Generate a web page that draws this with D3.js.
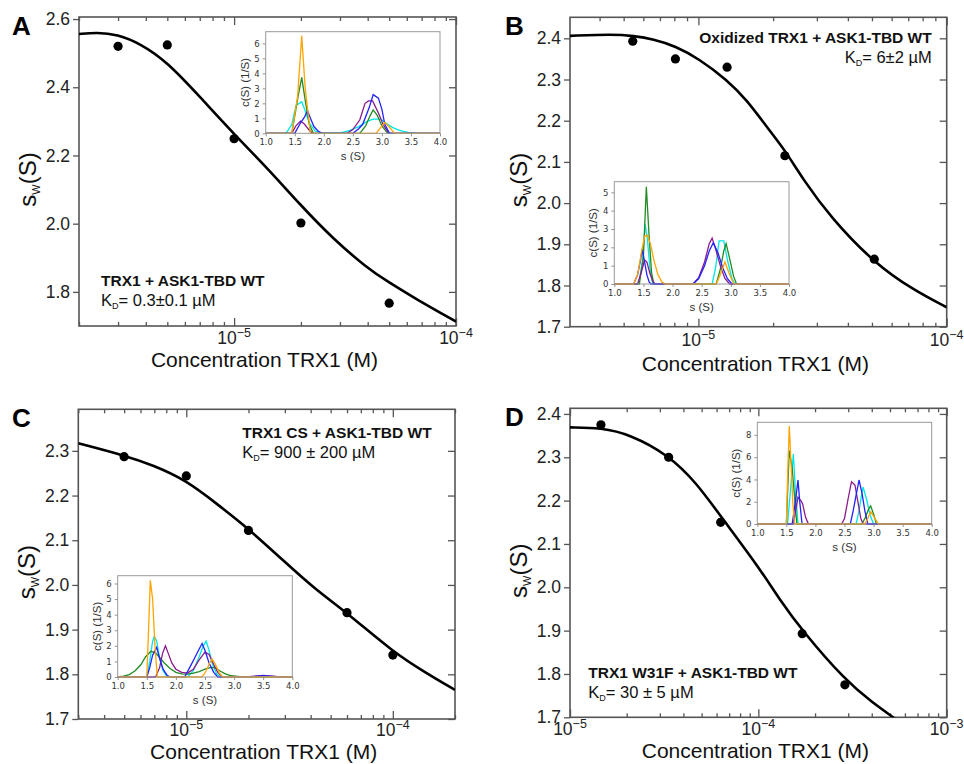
<!DOCTYPE html>
<html>
<head>
<meta charset="utf-8">
<script src="https://cdn.jsdelivr.net/npm/d3@7"></script>
<style>
  body { margin: 0; background: #fff; }
  svg { display: block; font-family: "Liberation Sans", Arial, sans-serif; }
</style>
</head>
<body>
<svg id="plot"></svg>
<script>
const WIDTH = 964;
const HEIGHT = 764;

// Panel A: TRX1 + ASK1-TBD WT
const concA = [3e-6, 5e-6, 1e-5, 2e-5, 5e-5];
const swA = [2.52, 2.524, 2.249, 2.002, 1.767];
const fitConcA = [2e-6, 2.41e-6, 2.97e-6, 3.78e-6, 5e-6, 7.03e-6, 1e-5, 1.4e-5, 2e-5, 2.8e-5, 3.96e-5, 5e-5, 6.65e-5, 1e-4];
const fitSwA = [2.556, 2.561, 2.555, 2.528, 2.474, 2.371, 2.262, 2.166, 2.053, 1.955, 1.871, 1.827, 1.778, 1.713];

// Panel B: oxidized TRX1
const concB = [5.44e-6, 8.08e-6, 1.305e-5, 2.23e-5, 5.11e-5];
const swB = [2.393, 2.35, 2.33, 2.115, 1.864];
const fitConcB = [3.04e-6, 4.55e-6, 5.47e-6, 6.59e-6, 8.08e-6, 1e-5, 1.305e-5, 1.567e-5, 1.884e-5, 2.23e-5, 2.65e-5, 3.39e-5, 5.11e-5, 7.35e-5, 1e-4];
const fitSwB = [2.406, 2.41, 2.406, 2.398, 2.381, 2.351, 2.299, 2.25, 2.185, 2.129, 2.056, 1.967, 1.854, 1.789, 1.747];

// Panel C: TRX1 CS
const concC = [5e-6, 1e-5, 2e-5, 6e-5, 1e-4];
const swC = [2.287, 2.244, 2.122, 1.938, 1.843];
const fitConcC = [3e-6, 5e-6, 6.9e-6, 1e-5, 1.4e-5, 2e-5, 2.94e-5, 4.26e-5, 6e-5, 1e-4, 1.46e-4, 2e-4];
const fitSwC = [2.317, 2.29, 2.268, 2.234, 2.182, 2.126, 2.055, 1.988, 1.938, 1.85, 1.802, 1.765];

// Panel D: TRX1 W31F
const concD = [1.46e-5, 3.34e-5, 6.31e-5, 1.71e-4, 2.88e-4];
const swD = [2.375, 2.3, 2.15, 1.893, 1.775];
const fitConcD = [1e-5, 1.46e-5, 2.08e-5, 3.34e-5, 4.69e-5, 6.31e-5, 1e-4, 1.3e-4, 1.71e-4, 2.88e-4, 4.08e-4, 5.21e-4, 6e-4];
const fitSwD = [2.369, 2.368, 2.353, 2.305, 2.241, 2.164, 2.048, 1.971, 1.9, 1.786, 1.732, 1.70, 1.68];

// Inset c(s) distributions, [s, c(s)] pairs
const seriesColors = ['#00e5e5', '#228b22', '#8b1a8b', '#2222ff', '#ffa500'];
const insetA = [
    [[1.0,0],[1.35,0],[1.45,0.6],[1.52,1.85],[1.58,2.0],[1.62,2.1],[1.67,1.6],[1.75,0.7],[1.85,0.15],[1.95,0.03],[2.3,0.05],[2.45,0.2],[2.6,0.45],[2.75,0.8],[2.85,0.95],[2.98,0.95],[3.08,0.65],[3.18,0.4],[3.3,0.2],[3.45,0.06],[3.6,0],[4.0,0]],
    [[1.0,0],[1.45,0],[1.55,2.3],[1.62,3.73],[1.68,2.2],[1.75,0.6],[1.82,0],[2.62,0],[2.72,0.5],[2.8,1.2],[2.85,1.56],[2.92,1.2],[3.0,0.5],[3.1,0],[4.0,0]],
    [[1.0,0],[1.45,0],[1.52,0.5],[1.6,0.82],[1.67,0.6],[1.73,0.3],[1.8,0],[2.4,0],[2.5,0.25],[2.62,0.9],[2.71,2.0],[2.77,2.16],[2.84,2.16],[2.94,1.35],[3.02,0.6],[3.1,0.1],[3.15,0],[4.0,0]],
    [[1.0,0],[1.5,0],[1.6,0.7],[1.67,1.1],[1.72,1.5],[1.77,1.0],[1.83,0.45],[1.9,0.15],[1.97,0],[2.5,0],[2.6,0.3],[2.67,0.6],[2.78,1.7],[2.85,2.58],[2.94,2.35],[3.0,1.6],[3.05,0.6],[3.13,0],[4.0,0]],
    [[1.0,0],[1.45,0],[1.55,2.5],[1.62,6.5],[1.68,3],[1.77,0],[2.9,0],[2.97,0.35],[3.05,0.72],[3.12,0.45],[3.22,0],[4.0,0]]
];
const insetB = [
    [[1.0,0],[1.42,0],[1.48,1.2],[1.53,3.25],[1.57,2.4],[1.61,0.9],[1.66,0],[2.68,0],[2.74,0.9],[2.8,2.35],[2.88,2.35],[2.95,1.2],[3.02,0.3],[3.07,0],[4.0,0]],
    [[1.0,0],[1.43,0],[1.5,1.5],[1.55,5.3],[1.6,2.5],[1.64,0.6],[1.68,0],[2.75,0],[2.82,0.8],[2.88,1.8],[2.92,2.2],[2.98,1.4],[3.05,0.4],[3.1,0],[4.0,0]],
    [[1.0,0],[1.4,0],[1.46,0.6],[1.52,1.31],[1.56,1.2],[1.61,0.6],[1.66,0.15],[1.7,0],[2.35,0],[2.45,0.35],[2.55,1.2],[2.63,2.2],[2.68,2.5],[2.74,1.9],[2.82,1.0],[2.9,0.3],[2.98,0],[4.0,0]],
    [[1.0,0],[1.33,0],[1.4,0.5],[1.45,1.3],[1.48,1.9],[1.52,1.2],[1.56,0.5],[1.6,0.1],[1.63,0],[2.35,0],[2.45,0.3],[2.55,1.0],[2.63,1.8],[2.7,2.25],[2.78,1.7],[2.86,0.9],[2.94,0.3],[3.02,0],[4.0,0]],
    [[1.0,0],[1.33,0],[1.4,0.5],[1.47,1.8],[1.52,2.6],[1.57,2.65],[1.62,2.2],[1.68,1.3],[1.75,0.5],[1.82,0.1],[1.88,0],[2.75,0],[2.82,0.5],[2.9,1.2],[2.97,0.6],[3.05,0],[4.0,0]]
];
const insetC = [
    [[1.0,0],[1.5,0],[1.55,1.0],[1.6,2.3],[1.63,2.6],[1.67,2.3],[1.72,1.2],[1.78,0.4],[1.85,0],[2.2,0],[2.3,0.4],[2.4,1.3],[2.47,2.0],[2.52,2.3],[2.57,1.7],[2.63,0.8],[2.7,0.2],[2.77,0],[4.0,0]],
    [[1.0,0],[1.1,0.05],[1.2,0.15],[1.3,0.4],[1.4,0.8],[1.48,1.3],[1.57,1.65],[1.65,1.55],[1.72,1.25],[1.8,0.9],[1.9,0.55],[2.0,0.3],[2.1,0.2],[2.2,0.18],[2.3,0.25],[2.4,0.35],[2.5,0.5],[2.6,0.62],[2.68,0.58],[2.75,0.4],[2.85,0.2],[2.95,0.08],[3.1,0.02],[3.3,0],[4.0,0]],
    [[1.0,0],[1.65,0],[1.72,0.6],[1.77,1.5],[1.82,2.0],[1.87,1.5],[1.93,0.9],[2.0,0.5],[2.1,0.3],[2.2,0.25],[2.3,0.5],[2.4,1.1],[2.5,1.6],[2.57,1.45],[2.65,0.8],[2.72,0.3],[2.8,0],[3.2,0],[3.4,0.07],[3.5,0.1],[3.6,0.07],[3.8,0],[4.0,0]],
    [[1.0,0],[1.5,0],[1.55,0.6],[1.6,1.4],[1.67,1.9],[1.72,1.2],[1.78,0.5],[1.85,0.1],[1.9,0],[2.15,0],[2.25,0.7],[2.32,1.2],[2.4,1.8],[2.45,2.15],[2.5,1.7],[2.57,0.9],[2.65,0.3],[2.72,0],[3.2,0],[3.4,0.05],[3.5,0.08],[3.6,0.05],[3.8,0],[4.0,0]],
    [[1.0,0],[1.5,0],[1.53,3.0],[1.56,6.2],[1.6,5.0],[1.64,2.0],[1.68,0],[2.45,0],[2.52,0.4],[2.58,0.9],[2.62,1.15],[2.68,0.8],[2.74,0.3],[2.8,0],[4.0,0]]
];
const insetD = [
    [[1.0,0],[1.52,0],[1.57,3.0],[1.62,6.3],[1.65,3.5],[1.7,0],[2.7,0],[2.75,1.2],[2.8,2.8],[2.82,3.3],[2.88,2.2],[2.94,0.8],[3.0,0],[4.0,0]],
    [[1.0,0],[1.5,0],[1.53,4.0],[1.55,6.6],[1.6,5.0],[1.64,2.5],[1.68,0],[2.8,0],[2.86,0.6],[2.92,1.4],[2.95,1.62],[3.0,0.9],[3.05,0],[4.0,0]],
    [[1.0,0],[1.62,0],[1.66,1.2],[1.7,2.4],[1.75,2.1],[1.78,1.8],[1.83,0.6],[1.88,0],[2.45,0],[2.5,0.5],[2.56,2.2],[2.62,3.8],[2.68,3.5],[2.73,2.0],[2.78,0.5],[2.82,0],[4.0,0]],
    [[1.0,0],[1.6,0],[1.65,1.8],[1.7,3.95],[1.73,2.0],[1.77,0],[2.6,0],[2.65,1.2],[2.7,2.6],[2.75,3.95],[2.8,2.8],[2.85,1.2],[2.9,0],[4.0,0]],
    [[1.0,0],[1.5,0],[1.52,4.0],[1.55,8.8],[1.58,5.5],[1.61,2.0],[1.64,0],[2.85,0],[2.9,0.5],[2.95,1.1],[3.0,0.7],[3.08,0],[4.0,0]]
];

const insetXTicks = [1.0, 1.5, 2.0, 2.5, 3.0, 3.5, 4.0];
const yTicksA = [1.8, 2.0, 2.2, 2.4, 2.6];
const yTicksBCD = [1.7, 1.8, 1.9, 2.0, 2.1, 2.2, 2.3, 2.4];

const panels = [
    {
        letter: 'A', conc: concA, sw: swA, fitConc: fitConcA, fitSw: fitSwA,
        box: [79, 456, 17, 326], xDom: [2e-6, 1e-4], yDom: [1.7, 2.606], yTicks: yTicksA,
        tickGap: 18, titleGap: 41,
        title: 'TRX1 + ASK1-TBD WT', kd: '= 0.3\u00b10.1 \u00b5M', textPos: [101, 286], anchor: 'start',
        inset: insetA, insetBox: [265.7, 440, 31.7, 133.3], insetMax: 6.78, insetTicks: [0, 1, 2, 3, 4, 5, 6]
    },
    {
        letter: 'B', conc: concB, sw: swB, fitConc: fitConcB, fitSw: fitSwB,
        box: [570, 946.7, 17.3, 326.7], xDom: [3.04e-6, 1e-4], yDom: [1.7, 2.451], yTicks: yTicksBCD,
        tickGap: 19, titleGap: 44,
        title: 'Oxidized TRX1 + ASK1-TBD WT', kd: '= 6\u00b12 \u00b5M', textPos: [931.7, 43.3], anchor: 'end',
        inset: insetB, insetBox: [614.3, 789, 181.7, 284], insetMax: 5.58, insetTicks: [0, 1, 2, 3, 4, 5]
    },
    {
        letter: 'C', conc: concC, sw: swC, fitConc: fitConcC, fitSw: fitSwC,
        box: [78.3, 455, 409.3, 719], xDom: [3e-6, 2e-4], yDom: [1.7, 2.393], yTicks: yTicksBCD.slice(0, 7),
        tickGap: 16.5, titleGap: 40,
        title: 'TRX1 CS + ASK1-TBD WT', kd: '= 900 \u00b1 200 \u00b5M', textPos: [242.3, 438.3], anchor: 'start',
        inset: insetC, insetBox: [117.7, 292.3, 575.7, 677], insetMax: 6.5, insetTicks: [0, 1, 2, 3, 4, 5, 6]
    },
    {
        letter: 'D', conc: concD, sw: swD, fitConc: fitConcD, fitSw: fitSwD,
        box: [570, 946.7, 408.3, 717.3], xDom: [1e-5, 1e-3], yDom: [1.7, 2.413], yTicks: yTicksBCD,
        tickGap: 18, titleGap: 41,
        title: 'TRX1 W31F + ASK1-TBD WT', kd: '= 30 \u00b1 5 \u00b5M', textPos: [588.3, 678.3], anchor: 'start',
        inset: insetD, insetBox: [757.3, 931.7, 422.3, 524], insetMax: 9.13, insetTicks: [0, 2, 4, 6, 8]
    }
];

const svg = d3.select('#plot').attr('width', WIDTH).attr('height', HEIGHT);

function logTicks(dom) {
    let out = [];
    for (let e = -7; e <= -2; e++) {
        for (let m = 1; m <= 9; m++) {
            let v = m * Math.pow(10, e);
            if (v >= dom[0] * 0.999 && v <= dom[1] * 1.001) out.push(v);
        }
    }
    return out;
}

function styleAxis(g, color) {
    g.select('.domain').remove();
    g.selectAll('line').attr('stroke', color).attr('stroke-width', 1.3);
}

function drawPanel(p, idx) {
    const [left, right, top, bottom] = p.box;
    const g = svg.append('g');
    const x = d3.scaleLog().domain(p.xDom).range([left, right]);
    const y = d3.scaleLinear().domain(p.yDom).range([bottom, top]);

    const all = logTicks(p.xDom);
    const major = all.filter(v => Math.abs(Math.log10(v) - Math.round(Math.log10(v))) < 1e-6);
    const minor = all.filter(v => !major.includes(v));

    // inward ticks on bottom and top
    [[d3.axisBottom, bottom], [d3.axisTop, top]].forEach(([ax, pos]) => {
        g.append('g').attr('transform', `translate(0,${pos})`)
            .call(ax(x).tickValues(minor).tickSize(-4).tickFormat(''))
            .call(s => styleAxis(s, '#555'));
        g.append('g').attr('transform', `translate(0,${pos})`)
            .call(ax(x).tickValues(major).tickSize(-8).tickFormat(''))
            .call(s => styleAxis(s, '#555'));
    });

    // decade labels with superscripts
    g.append('g').selectAll('text').data(major).enter().append('text')
        .attr('x', d => x(d)).attr('y', bottom + p.tickGap)
        .attr('text-anchor', 'middle').attr('font-size', 17.5).attr('fill', '#222')
        .each(function (d) {
            const t = d3.select(this);
            t.append('tspan').text('10');
            t.append('tspan').attr('dy', -7).attr('font-size', 12.5)
                .text('\u2212' + Math.abs(Math.round(Math.log10(d))));
        });

    // left axis with labels (outward ticks), right axis inward
    g.append('g').attr('transform', `translate(${left},0)`)
        .call(d3.axisLeft(y).tickValues(p.yTicks).tickSize(6).tickPadding(3).tickFormat(d3.format('.1f')))
        .call(s => styleAxis(s, '#555'))
        .call(s => s.selectAll('text').attr('font-size', 17.5).attr('fill', '#222')
            .attr('font-family', '"Liberation Sans", Arial, sans-serif'));
    g.append('g').attr('transform', `translate(${right},0)`)
        .call(d3.axisRight(y).tickValues(p.yTicks).tickSize(-7).tickFormat(''))
        .call(s => styleAxis(s, '#555'));

    g.append('rect').attr('x', left).attr('y', top)
        .attr('width', right - left).attr('height', bottom - top)
        .attr('fill', 'none').attr('stroke', '#555').attr('stroke-width', 1.6);

    // axis titles
    g.append('text').attr('x', (left + right) / 2 - 3).attr('y', bottom + p.titleGap)
        .attr('text-anchor', 'middle').attr('font-size', 21).attr('fill', '#111')
        .text('Concentration TRX1 (M)');
    const yt = g.append('text')
        .attr('transform', `translate(${left - 43},${(top + bottom) / 2 + 8}) rotate(-90)`)
        .attr('text-anchor', 'middle').attr('font-size', 24).attr('fill', '#111');
    yt.append('tspan').text('s');
    yt.append('tspan').attr('font-size', 11).attr('dy', 4).text('W');
    yt.append('tspan').attr('dy', -4).text('(S)');

    // panel letter
    g.append('text').attr('x', idx % 2 === 0 ? 12 : 505).attr('y', top + 18)
        .attr('font-size', 26).attr('font-weight', 'bold').attr('fill', '#000')
        .text(p.letter);

    // fit curve
    const clipId = 'clip' + p.letter;
    g.append('clipPath').attr('id', clipId).append('rect')
        .attr('x', left).attr('y', top).attr('width', right - left).attr('height', bottom - top);
    const fit = p.fitConc.map((c, i) => [c, p.fitSw[i]]);
    g.append('path').datum(fit)
        .attr('clip-path', `url(#${clipId})`)
        .attr('fill', 'none').attr('stroke', '#000').attr('stroke-width', 2.6)
        .attr('d', d3.line().x(d => x(d[0])).y(d => y(d[1])).curve(d3.curveBasis));

    g.append('g').selectAll('circle').data(p.conc).enter().append('circle')
        .attr('cx', d => x(d)).attr('cy', (d, i) => y(p.sw[i])).attr('r', 4.6).attr('fill', '#000');

    // annotation
    const [tx, ty] = p.textPos;
    g.append('text').attr('x', tx).attr('y', ty).attr('text-anchor', p.anchor)
        .attr('font-size', 15.5).attr('font-weight', 'bold').attr('fill', '#111').text(p.title);
    const kd = g.append('text').attr('x', tx).attr('y', ty + 20).attr('text-anchor', p.anchor)
        .attr('font-size', 16.5).attr('fill', '#111');
    kd.append('tspan').text('K');
    kd.append('tspan').attr('font-size', 9).attr('dy', 3).text('D');
    kd.append('tspan').attr('dy', -3).text(p.kd);

    drawInset(g, p);
}

function drawInset(g, p) {
    const [left, right, top, bottom] = p.insetBox;
    const x = d3.scaleLinear().domain([1, 4]).range([left, right]);
    const y = d3.scaleLinear().domain([0, p.insetMax]).range([bottom, top]);
    const ig = g.append('g');

    ig.append('rect').attr('x', left).attr('y', top)
        .attr('width', right - left).attr('height', bottom - top).attr('fill', '#fff');

    const line = d3.line().x(d => x(d[0])).y(d => y(d[1]));
    p.inset.forEach((s, i) => {
        ig.append('path').datum(s).attr('fill', 'none')
            .attr('stroke', seriesColors[i]).attr('stroke-width', 1.3)
            .attr('d', line);
    });

    ig.append('g').attr('transform', `translate(0,${bottom})`)
        .call(d3.axisBottom(x).tickValues(insetXTicks).tickSize(3).tickPadding(3).tickFormat(d3.format('.1f')))
        .call(s => styleAxis(s, '#777'))
        .call(s => s.selectAll('line').attr('stroke-width', 0.8))
        .call(s => s.selectAll('text').attr('font-size', 8.5).attr('fill', '#333')
            .attr('font-family', '"DejaVu Sans", sans-serif'));
    ig.append('g').attr('transform', `translate(${left},0)`)
        .call(d3.axisLeft(y).tickValues(p.insetTicks).tickSize(3).tickPadding(3).tickFormat(d3.format('d')))
        .call(s => styleAxis(s, '#777'))
        .call(s => s.selectAll('line').attr('stroke-width', 0.8))
        .call(s => s.selectAll('text').attr('font-size', 8.5).attr('fill', '#333')
            .attr('font-family', '"DejaVu Sans", sans-serif'));

    ig.append('rect').attr('x', left).attr('y', top)
        .attr('width', right - left).attr('height', bottom - top)
        .attr('fill', 'none').attr('stroke', '#999').attr('stroke-width', 1);

    ig.append('text').attr('x', (left + right) / 2).attr('y', bottom + 27)
        .attr('text-anchor', 'middle').attr('font-size', 11.5).attr('fill', '#333').text('s (S)');
    ig.append('text')
        .attr('transform', `translate(${left - 17},${(top + bottom) / 2}) rotate(-90)`)
        .attr('text-anchor', 'middle').attr('font-size', 11.5).attr('fill', '#333').text('c(S) (1/S)');
}

panels.forEach(drawPanel);
</script>
</body>
</html>
